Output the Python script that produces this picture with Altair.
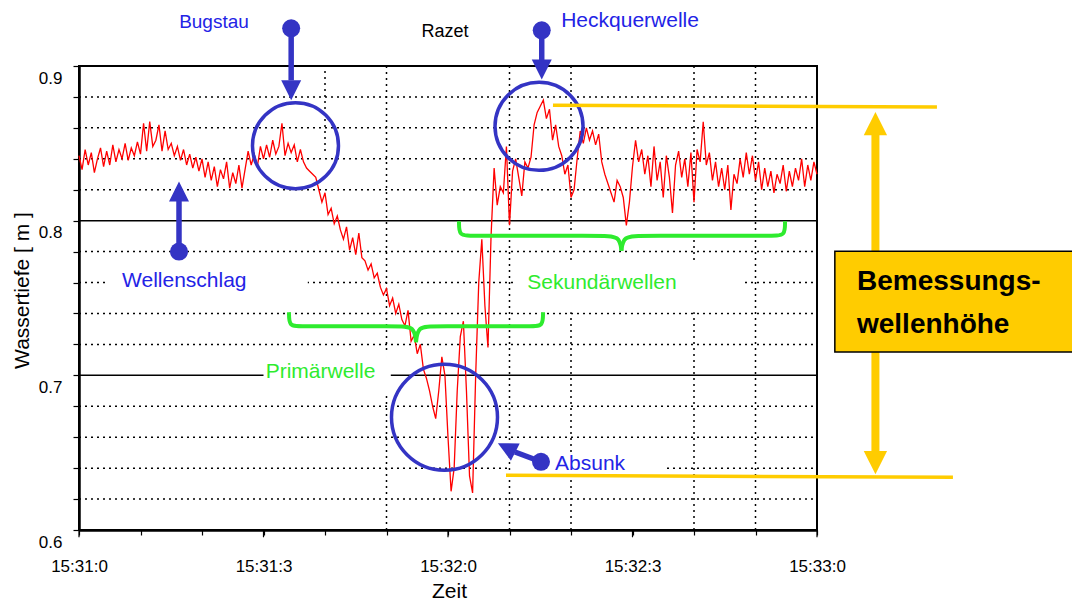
import json
import altair as alt
import pandas as pd

FONT = "Liberation Sans"

# ---------------- axis data ----------------
tick_seconds = [0, 30, 60, 90, 120]
tick_labels = ["15:31:0", "15:31:3", "15:32:0", "15:32:3", "15:33:0"]
minor_seconds = [0, 10, 20, 30, 40, 50, 60, 70, 80, 90, 100, 110, 120]
depth_ticks = [0.6, 0.62, 0.64, 0.66, 0.68, 0.7, 0.72, 0.74, 0.76, 0.78,
               0.8, 0.82, 0.84, 0.86, 0.88, 0.9]

# ---------------- measured series (sampled every 0.5 s) ----------------
sample_step = 0.5
wassertiefe = [
    0.842, 0.833, 0.846, 0.836, 0.844, 0.831, 0.840, 0.847, 0.835,          # 0 - 4
    0.845, 0.836, 0.849, 0.838, 0.846, 0.840, 0.850, 0.839, 0.847, 0.842,   # 4.5 - 9
    0.851, 0.843, 0.863, 0.845, 0.864, 0.848, 0.852, 0.862, 0.845, 0.858, 0.846,  # 9.5 - 14.5
    0.850, 0.842, 0.848, 0.839, 0.846, 0.836, 0.843, 0.834, 0.841, 0.832, 0.840,  # 15 - 20
    0.828, 0.838, 0.826, 0.835, 0.822, 0.833, 0.827, 0.838, 0.821, 0.831, 0.824, 0.836, 0.821,  # 20.5 - 26.5
    0.833, 0.845, 0.836, 0.843, 0.835, 0.848, 0.840,                        # 27 - 30
    0.849, 0.841, 0.852, 0.843, 0.848, 0.863, 0.842, 0.850, 0.844, 0.849, 0.838, 0.846,  # 30.5 - 36
    0.838, 0.834, 0.832, 0.830, 0.828, 0.820, 0.812, 0.818, 0.804,          # 36.5 - 40.5
    0.808, 0.798, 0.803, 0.794, 0.788, 0.796, 0.781,                        # 41 - 44
    0.789, 0.778, 0.792, 0.776,                                             # 44.5 - 46
    0.774, 0.768, 0.772, 0.763, 0.766,                                      # 46.5 - 48.5
    0.757, 0.752, 0.756,                                                    # 49 - 50
    0.745, 0.750, 0.740, 0.746, 0.736,                                      # 50.5 - 52.5
    0.732, 0.742, 0.722, 0.726, 0.714, 0.720,                               # 53 - 55.5
    0.704, 0.698, 0.690, 0.680, 0.672, 0.690, 0.712, 0.700,                 # 56 - 59.5
    0.660, 0.625, 0.640, 0.690, 0.725, 0.735, 0.690, 0.635, 0.624,          # 60 - 64
    0.700, 0.760, 0.788, 0.745, 0.718, 0.790, 0.834, 0.810, 0.822,          # 64.5 - 68.5
    0.818, 0.848, 0.797, 0.832, 0.840, 0.828, 0.816, 0.838, 0.834, 0.841,   # 69 - 73.5
    0.862, 0.870, 0.874, 0.878, 0.866, 0.872, 0.852, 0.862, 0.848, 0.842,   # 74 - 78.5
    0.830, 0.836, 0.815, 0.820, 0.840, 0.858, 0.850, 0.860, 0.852, 0.858,   # 79 - 83.5
    0.849, 0.856, 0.838, 0.830, 0.824, 0.818, 0.812, 0.826, 0.822, 0.815,   # 84 - 88.5
    0.797, 0.812, 0.835, 0.852, 0.838, 0.846, 0.830, 0.842,                 # 89 - 92.5
    0.822, 0.848, 0.826, 0.838, 0.815, 0.842, 0.828, 0.805, 0.836, 0.845,   # 93 - 97.5
    0.828, 0.840, 0.822, 0.844, 0.812, 0.846, 0.838, 0.864, 0.836, 0.844,   # 98 - 102.5
    0.826, 0.838, 0.822, 0.834, 0.820, 0.836, 0.807, 0.830, 0.824, 0.840,   # 103 - 107.5
    0.828, 0.844, 0.830, 0.842, 0.826, 0.838, 0.820, 0.834, 0.822, 0.832,   # 108 - 112.5
    0.818, 0.830, 0.824, 0.836, 0.819, 0.832, 0.822, 0.834, 0.826, 0.840,   # 113 - 117.5
    0.822, 0.836, 0.826, 0.838, 0.830,                                      # 118 - 120
]
zeit = [i * sample_step for i in range(len(wassertiefe))]

# ---------------- grid ----------------
dotted_levels = [0.62, 0.64, 0.66, 0.68, 0.72, 0.74, 0.76, 0.78, 0.82, 0.84, 0.86, 0.88]
solid_levels = [0.7, 0.8]
vgrid_t = [40, 50, 70, 80, 100, 110]
vgrid_from = [0.845, 0.6, 0.6, 0.6, 0.6, 0.6]
vgrid_to = [0.9, 0.9, 0.9, 0.9, 0.9, 0.9]

# white label backgrounds that interrupt the grid
mask_t = [4.7, 30.0, 70.6, 70.2]
mask_t2 = [37.2, 50.7, 108.0, 95.3]
mask_v = [0.7486, 0.689, 0.7408, 0.6373]
mask_v2 = [0.7712, 0.714, 0.7731, 0.6484]

# ---------------- annotations ----------------
brace_seg = (["p1"] * 6 + ["p2"] * 6 + ["s1"] * 6 + ["s2"] * 6)
brace_t = [34.15, 34.15, 35.9, 52.0, 54.5, 54.8,
           54.8, 55.1, 57.6, 73.7, 75.45, 75.45,
           61.79, 61.79, 63.6, 85.0, 87.9, 88.2,
           88.2, 88.5, 91.4, 113.0, 114.8, 114.8]
brace_v = [0.7408, 0.7317, 0.7317, 0.7317, 0.7317, 0.7214,
           0.7214, 0.7317, 0.7317, 0.7317, 0.7317, 0.7408,
           0.7996, 0.7902, 0.7902, 0.7902, 0.7902, 0.7805,
           0.7805, 0.7902, 0.7902, 0.7902, 0.7902, 0.7996]

green_text = ["Primärwelle", "Sekundärwellen"]
green_t = [39.27, 85.04]
green_v = [0.6981, 0.7561]

blue_text = ["Heckquerwelle", "Wellenschlag", "Absunk"]
blue_t = [89.6, 17.12, 83.1]
blue_v = [0.9250, 0.7572, 0.6386]
bug_text = ["Bugstau"]
bug_t = [21.95]
bug_v = [0.9244]

ring_t = [35.2, 74.8, 59.43]
ring_v = [0.8485, 0.861, 0.6729]
ring_size = [7396, 7744, 11236]

dot_t = [34.5, 75.24, 16.26, 75.12]
dot_v = [0.9244, 0.9231, 0.780, 0.6441]
shaft_t = [34.5, 75.24, 16.26, 75.12]
shaft_v = [0.9244, 0.9231, 0.780, 0.6441]
shaft_t2 = [34.5, 75.24, 16.26, 70.89]
shaft_v2 = [0.8907, 0.9037, 0.8127, 0.6504]

head_down_t = [34.5, 75.24]
head_down_v = [0.8843, 0.8977]
head_up_t = [16.26]
head_up_v = [0.8189]
head_left_t = [69.53]
head_left_v = [0.6532]

# yellow "Bemessungswellenhöhe" marker
ylines_t = [77.07, 69.43]
ylines_v = [0.8747, 0.6354]
ylines_t2 = [139.5, 142.1]
ylines_v2 = [0.8735, 0.6341]
yshaft_t = [129.5]
yshaft_v = [0.8584]
yshaft_v2 = [0.647]
yhead_up = [(129.5, 0.8628)]
yhead_down = [(129.5, 0.6435)]
box_t, box_t2, box_v, box_v2 = [122.9], [165.0], [0.7802], [0.7151]
box_text = ["Bemessungs-", "wellenhöhe"]
box_text_t = [126.5, 126.5]
box_text_v = [0.755, 0.7272]

title_text = ["Razet"]
title_t = [59.5]
title_v = [0.9186]

# ---------------- chart ----------------
XS = alt.Scale(domain=[0, 120], nice=False, zero=False)
YS = alt.Scale(domain=[0.6, 0.9], nice=False, zero=False)
BLUE_TEXT = "#2323E6"
BLUE = "#3434C4"
GREEN = "#2EEB2E"
YELLOW = "#FFCC00"

x_label_expr = (
    f"datum.value % 30 === 0 ? {json.dumps(tick_labels)}[datum.value / 30] : ''"
)
y_label_expr = ("abs(datum.value * 10 - round(datum.value * 10)) < 0.001 ? "
                "format(datum.value, '.1f') : ''")

X_AXIS = alt.Axis(values=minor_seconds, labelExpr=x_label_expr, grid=False,
                  tickSize=5, tickWidth=1.2, tickColor="black",
                  domainColor="black", domainWidth=2.5,
                  labelFont=FONT, labelFontSize=17, labelColor="black",
                  labelPadding=23, labelOverlap=False, labelFlush=False,
                  titleFont=FONT, titleFontSize=21, titleFontWeight="normal",
                  titleColor="black", titleX=370, titleY=67,
                  titleBaseline="alphabetic", titleAlign="center")
Y_AXIS = alt.Axis(values=depth_ticks, labelExpr=y_label_expr, grid=False,
                  tickSize=6, tickWidth=1.2, tickColor="black",
                  domainColor="black", domainWidth=2.5,
                  labelFont=FONT, labelFontSize=17, labelColor="black",
                  labelPadding=11, labelBaseline="top", labelOffset=4,
                  labelOverlap=False, labelFlush=False,
                  titleFont=FONT, titleFontSize=21, titleFontWeight="normal",
                  titleColor="black", titleAngle=270, titleX=-57, titleY=224,
                  titleAlign="center", titleBaseline="middle")


def X(f="t"):
    return alt.X(f"{f}:Q", scale=XS, axis=X_AXIS, title="Zeit")


def Y(f="v"):
    return alt.Y(f"{f}:Q", scale=YS, axis=Y_AXIS, title="Wassertiefe [ m ]")


df_line = pd.DataFrame({"t": zeit, "v": wassertiefe})

line = alt.Chart(df_line).mark_line(color="#FF0000", strokeWidth=1.3).encode(
    x=X(), y=Y(), order="t:Q")

grid_dot = alt.Chart(pd.DataFrame({"v": dotted_levels, "t": 0, "t2": 120})).mark_rule(
    color="black", strokeWidth=1.5, strokeDash=[2, 4]).encode(x=X(), x2="t2", y=Y())
grid_solid = alt.Chart(pd.DataFrame({"v": solid_levels, "t": 0, "t2": 120})).mark_rule(
    color="black", strokeWidth=1.5).encode(x=X(), x2="t2", y=Y())
grid_v = alt.Chart(pd.DataFrame({"t": vgrid_t, "v": vgrid_from, "v2": vgrid_to})).mark_rule(
    color="black", strokeWidth=1.5, strokeDash=[2, 4]).encode(x=X(), y=Y(), y2="v2")
masks = alt.Chart(pd.DataFrame({"t": mask_t, "t2": mask_t2, "v": mask_v, "v2": mask_v2})).mark_rect(
    fill="white", strokeWidth=0).encode(x=X(), x2="t2", y=Y(), y2="v2")

major_ticks = alt.Chart(pd.DataFrame({"t": tick_seconds, "v": 0.6, "v2": 0.5953})).mark_rule(
    color="black", strokeWidth=1.2).encode(x=X(), y=Y(), y2="v2")

braces = alt.Chart(pd.DataFrame({"seg": brace_seg, "t": brace_t, "v": brace_v,
                                 "o": list(range(len(brace_t)))})).mark_line(
    color=GREEN, strokeWidth=4, interpolate="basis").encode(
    x=X(), y=Y(), detail="seg:N", order="o:Q")
green_labels = alt.Chart(pd.DataFrame({"t": green_t, "v": green_v, "s": green_text})).mark_text(
    font=FONT, fontSize=21, color=GREEN, align="center", baseline="alphabetic").encode(
    x=X(), y=Y(), text="s:N")

rings = alt.Chart(pd.DataFrame({"t": ring_t, "v": ring_v, "s": ring_size})).mark_point(
    shape="circle", filled=False, stroke=BLUE, strokeWidth=3.5, opacity=1).encode(
    x=X(), y=Y(), size=alt.Size("s:Q", scale=None))
shafts = alt.Chart(pd.DataFrame({"t": shaft_t, "v": shaft_v, "t2": shaft_t2, "v2": shaft_v2})).mark_rule(
    color=BLUE, strokeWidth=5.5).encode(x=X(), y=Y(), x2="t2", y2="v2")
dots = alt.Chart(pd.DataFrame({"t": dot_t, "v": dot_v})).mark_point(
    shape="circle", filled=True, fill=BLUE, size=324, opacity=1, strokeWidth=0).encode(x=X(), y=Y())
heads_down = alt.Chart(pd.DataFrame({"t": head_down_t, "v": head_down_v})).mark_point(
    shape="M-1,-1L1,-1L0,1Z", filled=True, fill=BLUE, size=400, opacity=1, strokeWidth=0).encode(x=X(), y=Y())
heads_up = alt.Chart(pd.DataFrame({"t": head_up_t, "v": head_up_v})).mark_point(
    shape="M-1,1L1,1L0,-1Z", filled=True, fill=BLUE, size=400, opacity=1, strokeWidth=0).encode(x=X(), y=Y())
heads_left = alt.Chart(pd.DataFrame({"t": head_left_t, "v": head_left_v})).mark_point(
    shape="M-1,0L1,-1L1,1Z", filled=True, fill=BLUE, size=380, angle=26.7, opacity=1,
    strokeWidth=0).encode(x=X(), y=Y())
blue_labels = alt.Chart(pd.DataFrame({"t": blue_t, "v": blue_v, "s": blue_text})).mark_text(
    font=FONT, fontSize=21, color=BLUE_TEXT, align="center", baseline="alphabetic").encode(
    x=X(), y=Y(), text="s:N")
bug_label = alt.Chart(pd.DataFrame({"t": bug_t, "v": bug_v, "s": bug_text})).mark_text(
    font=FONT, fontSize=19, color=BLUE_TEXT, align="center", baseline="alphabetic").encode(
    x=X(), y=Y(), text="s:N")

title = alt.Chart(pd.DataFrame({"t": title_t, "v": title_v, "s": title_text})).mark_text(
    font=FONT, fontSize=18, color="black", align="center", baseline="alphabetic").encode(
    x=X(), y=Y(), text="s:N")

ylines = alt.Chart(pd.DataFrame({"t": ylines_t, "v": ylines_v, "t2": ylines_t2, "v2": ylines_v2})).mark_rule(
    color=YELLOW, strokeWidth=3.5).encode(x=X(), y=Y(), x2="t2", y2="v2")
yshaft = alt.Chart(pd.DataFrame({"t": yshaft_t, "v": yshaft_v, "v2": yshaft_v2})).mark_rule(
    color=YELLOW, strokeWidth=8).encode(x=X(), y=Y(), y2="v2")
yheads_up = alt.Chart(pd.DataFrame(yhead_up, columns=["t", "v"])).mark_point(
    shape="M-1,1L1,1L0,-1Z", filled=True, fill=YELLOW, size=543, opacity=1, strokeWidth=0).encode(x=X(), y=Y())
yheads_down = alt.Chart(pd.DataFrame(yhead_down, columns=["t", "v"])).mark_point(
    shape="M-1,-1L1,-1L0,1Z", filled=True, fill=YELLOW, size=543, opacity=1, strokeWidth=0).encode(x=X(), y=Y())
box = alt.Chart(pd.DataFrame({"t": box_t, "t2": box_t2, "v": box_v, "v2": box_v2})).mark_rect(
    fill=YELLOW, stroke="black", strokeWidth=1.5).encode(x=X(), x2="t2", y=Y(), y2="v2")
box_labels = alt.Chart(pd.DataFrame({"t": box_text_t, "v": box_text_v, "s": box_text})).mark_text(
    font=FONT, fontSize=28, fontWeight="bold", color="black", align="left", baseline="alphabetic").encode(
    x=X(), y=Y(), text="s:N")

chart = alt.layer(
    grid_dot, grid_solid, grid_v, masks, line, major_ticks,
    braces, green_labels, rings, shafts, dots, heads_down, heads_up, heads_left,
    blue_labels, bug_label,
    title, ylines, yshaft, yheads_up, yheads_down, box, box_labels,
).properties(
    width=738, height=464,
    autosize=alt.AutoSizeParams(type="none"),
    padding={"left": 71, "top": 58, "right": 255, "bottom": 72},
    background="white",
).configure_view(stroke="black", strokeWidth=2)

chart.save("out.html", embed_options={"renderer": "svg", "actions": False})
